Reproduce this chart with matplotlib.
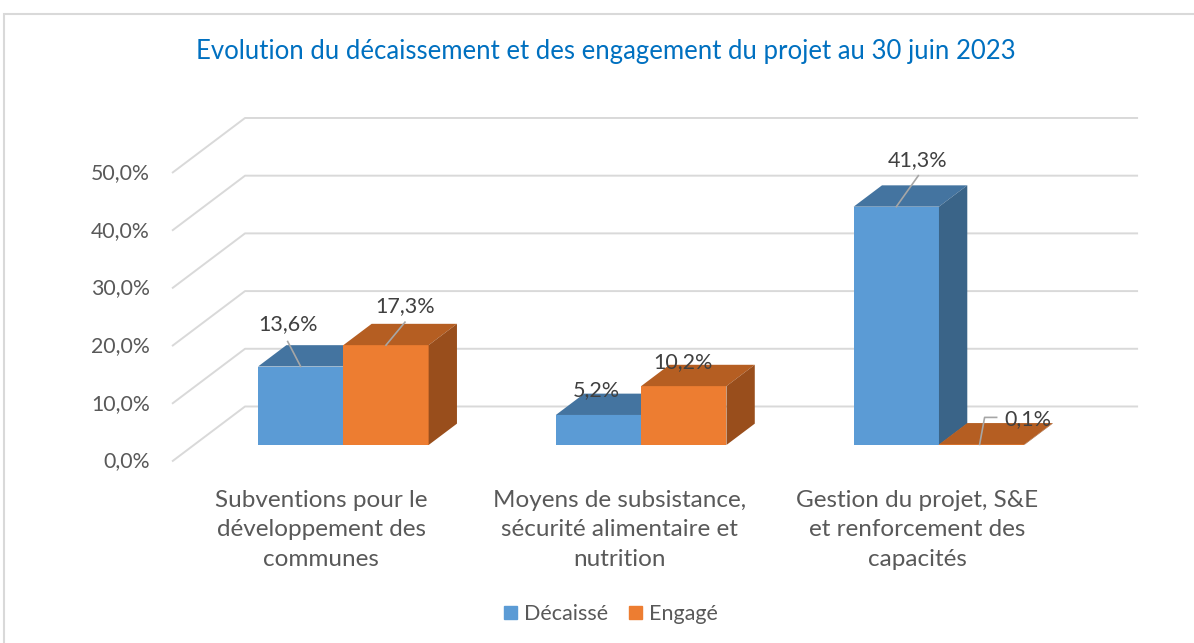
import matplotlib
matplotlib.use("Agg")
import matplotlib.pyplot as plt
from matplotlib.patches import Polygon, Rectangle, Patch

# ---------------- data ----------------
categories = ["Subventions pour le\ndéveloppement des\ncommunes",
              "Moyens de subsistance,\nsécurité alimentaire et\nnutrition",
              "Gestion du projet, S&E\net renforcement des\ncapacités"]
series_names = ["Décaissé", "Engagé"]
decaisse = [13.6, 5.2, 41.3]
engage = [17.3, 10.2, 0.1]
y_ticks = [0, 10, 20, 30, 40, 50]
y_tick_labels = ["0,0%", "10,0%", "20,0%", "30,0%", "40,0%", "50,0%"]
title = "Evolution du décaissement et des engagement du projet au 30 juin 2023"

# ---------------- style ----------------
FONT = ["Lato", "DejaVu Sans"]
plt.rcParams['font.family'] = FONT
W, H = 1194, 643
fig = plt.figure(figsize=(W / 100, H / 100), dpi=100)
ax = fig.add_axes([0, 0, 1, 1])
ax.set_xlim(-1.0793, 2.9299)
ax.set_ylim(-31.46, 79.98)
ax.axis('off')

PX_X = 297.8   # pixels per category unit
PX_Y = 5.77    # pixels per percent

def dxp(p):
    return p / PX_X

def dyp(p):
    return p / PX_Y

DX, DY = dxp(73), dyp(55)       # full depth of the floor
F0, FD = 0.30, 0.388            # bar depth start and bar depth length
BW = dxp(85.3)                  # bar width
XL, XR = dxp(172 - 321.4), dxp(1138 - 321.4) - DX

grid_c = "#D9D9D9"
for v in y_ticks:
    ax.plot([XL, XL + DX, XR + DX], [v, v + DY, v + DY], color=grid_c, lw=1.4,
            solid_capstyle='butt', zorder=1)
for v, lab in zip(y_ticks, y_tick_labels):
    ax.text(XL - dxp(22), v, lab, ha='right', va='center', fontsize=15.3,
            color="#595959")

colors = {
    0: ("#5B9BD5", "#4474A0", "#3A6488"),
    1: ("#ED7D31", "#B55E22", "#994E1C"),
}

def draw_bar(x0, val, cols):
    front, top, side = cols
    b = F0 * DY
    xa = x0 + F0 * DX
    xb = xa + BW
    ax.bar(xa + BW / 2, val, width=BW, bottom=b, color=front, lw=0, zorder=3)
    ddx, ddy = FD * DX, FD * DY
    ax.add_patch(Polygon([(xa, b + val), (xb, b + val), (xb + ddx, b + val + ddy),
                          (xa + ddx, b + val + ddy)], closed=True, fc=top, lw=0, zorder=3))
    ax.add_patch(Polygon([(xb, b), (xb, b + val), (xb + ddx, b + val + ddy),
                          (xb + ddx, b + ddy)], closed=True, fc=side, lw=0, zorder=3))
    return xa + BW / 2, b + val

tops = []
for i in range(len(categories)):
    t0 = draw_bar(i - BW, decaisse[i], colors[0])
    t1 = draw_bar(i, engage[i], colors[1])
    tops.append((t0, t1))

# data labels: (offset of label center in px, leader polyline offsets in px)
label_off = {
    (0, 0): ((-13, 42), [(0, 0), (-13, 25)]),
    (0, 1): ((19, 39), [(0, 0), (19, 23)]),
    (1, 0): ((-2, 25), None),
    (1, 1): ((-1, 24.5), None),
    (2, 0): ((21, 47), [(0, 0), (22, 31)]),
    (2, 1): ((46.5, 25), [(-2, 0), (3, 27), (15, 27)]),
}
lead_c = "#A6A6A6"
for i in range(len(categories)):
    for s, vals in enumerate([decaisse, engage]):
        (cx, cy) = tops[i][s]
        (ox, oy), lead = label_off[(i, s)]
        if lead:
            ax.plot([cx + dxp(p[0]) for p in lead], [cy + dyp(p[1]) for p in lead],
                    color=lead_c, lw=1.2, zorder=4)
        txt = f"{vals[i]:.1f}%".replace(".", ",")
        ax.text(cx + dxp(ox), cy + dyp(oy), txt, ha='center', va='center',
                fontsize=15.5, color="#404040", zorder=5)

# category labels
for i, c in enumerate(categories):
    ax.text(i, dyp(461.5 - 530), c, ha='center', va='center', fontsize=17.5,
            color="#595959", linespacing=1.52)

# title
fig.text(606 / W, 1 - 52 / H, title, ha='center', va='center', fontsize=18.5,
         color="#0070C0")

# legend
handles = [Patch(color=colors[0][0]), Patch(color=colors[1][0])]
fig.legend(handles, series_names, loc='center', bbox_to_anchor=(611 / W, 1 - 614 / H),
           ncol=2, frameon=False, fontsize=15.5, handlelength=0.6, handleheight=0.6,
           handletextpad=0.3, columnspacing=1.0, labelcolor="#595959")

# chart border
fig.add_artist(Rectangle((4 / W, -0.1), 1.2, (H - 14) / H + 0.1, transform=fig.transFigure,
                         fill=False, ec="#D9D9D9", lw=1.5))

fig.savefig("out.png", dpi=100)
